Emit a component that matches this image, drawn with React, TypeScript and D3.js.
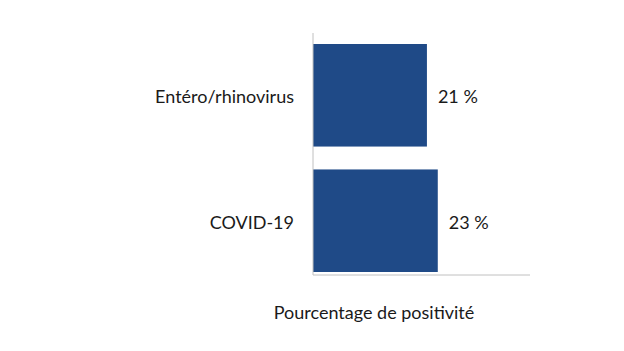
import * as d3 from "d3";

const categories = ["Entéro/rhinovirus", "COVID-19"];
const values = [21, 23];
const valueLabels = ["21 %", "23 %"];
const axisTitle = "Pourcentage de positivité";

export default function App() {
  const width = 624;
  const height = 351;
  const left = 313;
  const right = 530;
  const top = 33;
  const bottom = 275;
  const font = "Lato, sans-serif";
  const fs = 18;

  const x = d3.scaleLinear().domain([0, 40]).range([left, right]);
  const y = d3
    .scaleBand()
    .domain(categories)
    .range([44, 272])
    .paddingInner(0.1825)
    .paddingOuter(0);

  return (
    <svg
      width={width}
      height={height}
      style={{ position: "absolute", left: 0, top: 0, background: "#fff" }}
    >
      {categories.map((c, i) => (
        <g key={c}>
          <rect
            x={x(0)}
            y={y(c)}
            width={x(values[i]) - x(0)}
            height={y.bandwidth()}
            fill="#1f4a87"
          />
          <text
            x={x(values[i]) + 11}
            y={(y(c) ?? 0) + y.bandwidth() / 2 + 1}
            dominantBaseline="central"
            fontFamily={font}
            fontSize={fs}
            fill="#1a1a1a"
          >
            {valueLabels[i]}
          </text>
          <text
            x={left - 19}
            y={(y(c) ?? 0) + y.bandwidth() / 2 + 1}
            dominantBaseline="central"
            textAnchor="end"
            fontFamily={font}
            fontSize={fs}
            fill="#1a1a1a"
          >
            {c}
          </text>
        </g>
      ))}
      <line x1={left} x2={left} y1={top} y2={bottom} stroke="#c0c0c0" />
      <line x1={left} x2={right} y1={bottom} y2={bottom} stroke="#c0c0c0" />
      <text
        x={374}
        y={312}
        textAnchor="middle"
        dominantBaseline="central"
        fontFamily={font}
        fontSize={fs}
        fill="#1a1a1a"
      >
        {axisTitle}
      </text>
    </svg>
  );
}
